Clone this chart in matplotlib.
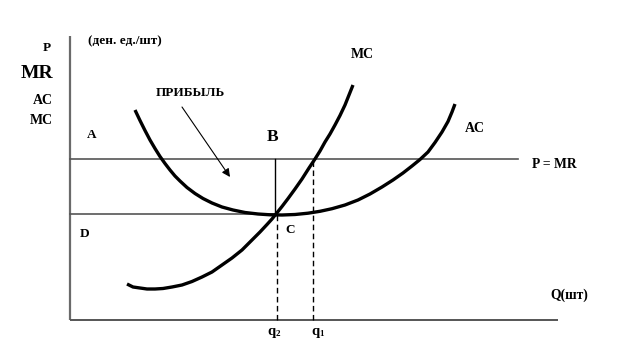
import matplotlib
matplotlib.use("Agg")
import matplotlib.pyplot as plt

# Data (economic units: Q along x, P along y)
ac_q = [65, 70, 75, 80, 85, 90, 95, 100, 105, 110, 117, 125, 133, 142, 152, 163, 175, 188, 200, 212,
        225, 238, 250, 262, 275, 288, 300, 312, 323, 333, 342, 350, 358, 365, 372, 378, 382, 385]
ac_p = [210, 199.5, 189.5, 180, 171.5, 163.5, 156.5, 150, 144, 139, 132.5, 126.5, 121.5, 117, 113, 110, 107.5, 106, 105.2, 105,
        105.5, 106.8, 108.7, 111.3, 115, 120, 126, 133, 140, 147, 154, 160.5, 168, 177.5, 188, 198.5, 208, 216]
mc_q = [57, 63, 70, 77, 85, 93, 102, 112, 122, 132, 142, 152, 162, 172, 182, 190, 197, 202, 206, 212,
        218, 225, 232, 239, 245, 250, 255, 260, 265, 270, 275, 279, 283]
mc_p = [36, 33, 32, 31, 31, 31.5, 33, 35, 38.5, 43, 48, 55, 62, 70, 80, 88, 95.5, 101, 106, 113.5,
        121.4, 131, 141, 152, 161, 169, 178, 186, 195, 204.5, 215, 225, 235]
price = 161        # P = MR
ac_min = 106       # level of point C
q2 = 206
q1 = 243
q_axis_end = 488
p_axis_end = 284
pmr_end = 448

plt.rcParams['font.family'] = ['Liberation Serif', 'DejaVu Serif']
plt.rcParams['font.weight'] = 'bold'

fig = plt.figure(figsize=(6.24, 3.48), dpi=100)
ax = fig.add_axes([0, 0, 1, 1])
ax.set_xlim(-70, 554)
ax.set_ylim(-28, 320)
ax.axis('off')

axis_c = '#6a6a6a'
line_c = '#555555'
# axes
ax.plot([0, 0], [0, p_axis_end], color=axis_c, lw=1.6, solid_capstyle='butt')
ax.plot([0, q_axis_end], [0, 0], color=line_c, lw=1.4, solid_capstyle='butt')
# horizontal lines
ax.plot([0, pmr_end], [price, price], color=line_c, lw=1.2)
ax.plot([0, q2], [ac_min, ac_min], color=line_c, lw=1.2)
# vertical solid B-C
ax.plot([q2 - 1, q2 - 1], [ac_min, price], color='black', lw=1.0)
# dashed verticals
ax.plot([q2 + 1, q2 + 1], [0, ac_min], color='black', lw=1.0, ls=(0, (4, 2.5)))
ax.plot([q1, q1], [0, price], color='black', lw=1.0, ls=(0, (4, 2.5)))

# curves
ax.plot(ac_q, ac_p, color='black', lw=2.4, solid_capstyle='butt', solid_joinstyle='round')
ax.plot(mc_q, mc_p, color='black', lw=2.4, solid_capstyle='butt', solid_joinstyle='round')

# arrow
ax.annotate('', xy=(160, 143), xytext=(112, 213),
            arrowprops=dict(arrowstyle='-|>', color='black', lw=0.8,
                            mutation_scale=12, shrinkA=0, shrinkB=0))

def t(x, y, s, size, ha='center'):
    ax.text(x, y, s, fontsize=size, fontweight='bold', ha=ha, va='center', color='black')

t(-23, 272, 'P', 9.5)
t(-33, 247, 'MR', 14)
t(-27, 220, 'AC', 10)
t(-29, 199, 'MC', 10)
t(22, 185, 'A', 9.5)
t(18, 279, '(ден. ед./шт)', 9.5, ha='left')
t(120, 227, 'ПРИБЫЛЬ', 9.5)
t(203, 183, 'B', 12.5)
t(220, 90, 'C', 9.5)
t(15, 86, 'D', 9.5)
t(292, 266, 'MC', 10)
t(405, 192, 'AC', 10)
t(462, 156, 'P = MR', 9.8, ha='left')
t(480, 25, 'Q(шт)', 9.8, ha='left')
# q labels with subscripts
t(202, -12, 'q', 10.5)
t(207.5, -14, '2', 6.5)
t(246, -12, 'q', 10.5)
t(251.5, -14, '1', 6.5)

fig.savefig('out.png', dpi=100)
